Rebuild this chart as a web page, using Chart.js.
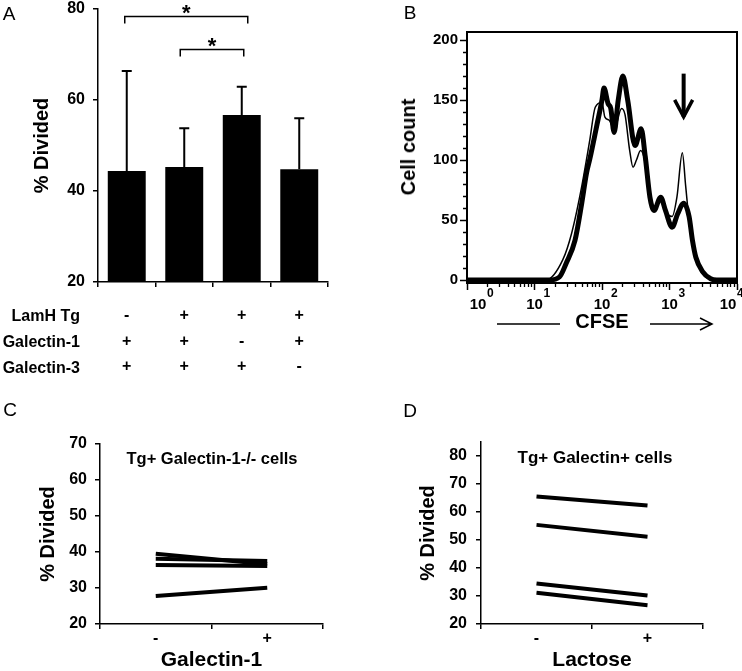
<!DOCTYPE html>
<html>
<head>
<meta charset="utf-8">
<script src="https://cdn.jsdelivr.net/npm/chart.js@4.4.0/dist/chart.umd.min.js"></script>
<style>
body { margin: 0; background: #fff; font-family: 'Liberation Sans', Arial, sans-serif; color: #000; }
#page { position: relative; width: 742px; height: 671px; overflow: hidden; background: #fff; }
canvas { position: absolute; }
.lbl { position: absolute; white-space: nowrap; line-height: 1; transform: translate(-50%, -50%); }
.panel { font-size: 19px; }
.row { font-size: 16px; font-weight: bold; transform: translate(-100%, -50%); }
.sub { font-weight: bold; }
.vert { font-size: 20px; font-weight: bold; transform: translate(-50%, -50%) rotate(-90deg); }
</style>
</head>
<body>
<div id="page">
  <canvas id="chartA" width="345" height="380" style="left:0;top:0;width:345px;height:380px"></canvas>
  <canvas id="chartB" width="371" height="340" style="left:371px;top:0;width:371px;height:340px"></canvas>
  <canvas id="chartC" width="360" height="271" style="left:0;top:400px;width:360px;height:271px"></canvas>
  <canvas id="chartD" width="371" height="271" style="left:371px;top:400px;width:371px;height:271px"></canvas>

  <div class="lbl panel" style="left:9px;top:13px">A</div>
  <div class="lbl panel" style="left:410px;top:12px">B</div>
  <div class="lbl panel" style="left:10px;top:409px">C</div>
  <div class="lbl panel" style="left:410px;top:410px">D</div>

  <div class="lbl row" style="left:80px;top:316px">LamH Tg</div>
  <div class="lbl row" style="left:80px;top:342px">Galectin-1</div>
  <div class="lbl row" style="left:80px;top:368px">Galectin-3</div>

  <div class="lbl vert" style="left:408px;top:147px">Cell count</div>

  <div class="lbl sub" style="left:212px;top:458px;font-size:16.5px">Tg+ Galectin-1-/- cells</div>
  <div class="lbl sub" style="left:595px;top:457px;font-size:17px">Tg+ Galectin+ cells</div>
</div>

<script>
// Panel A: % divided per condition, with SD
const conditionLabels = [['-', '+', '+'], ['+', '+', '+'], ['+', '-', '+'], ['+', '+', '-']];
const dividedMeans = [44.4, 45.3, 56.7, 44.8];
const dividedErrors = [22.0, 8.5, 6.2, 11.2];
const sigPairs = [[0, 2], [1, 2]];
const dividedTicks = [20, 40, 60, 80];

// Panel B: CFSE histograms (thick and thin overlays)
const cfseThickX = [1, 16.6, 23.4, 29.5, 39.8, 50.1, 58.9, 66.1, 83.2, 100, 107, 123, 135, 151, 174, 204, 240, 309, 380, 437, 513, 589, 741, 871, 1096, 1318, 1622, 1950, 2188, 2455, 3090, 4074, 5012, 10000];
const cfseThickY = [0, 0, 2.5, 14, 33, 64, 89, 101, 128, 150, 160, 147, 143, 123, 150, 170, 150, 112, 126, 103, 69, 58, 69, 58, 44, 55, 64, 53, 33, 19, 7, 1, 0, 0];
const cfseThinX = [1, 14.8, 26.3, 35.5, 50.1, 66.1, 79.4, 100, 110, 129, 151, 195, 219, 257, 288, 324, 372, 427, 490, 589, 741, 933, 1096, 1288, 1549, 1738, 1950, 2291, 2884, 3802, 5012, 10000];
const cfseThinY = [0, 0, 17, 39, 78, 117, 144, 148, 136, 133, 125, 143, 138, 108, 94, 100, 108, 100, 72, 60, 70, 55, 53, 69, 106, 78, 50, 25, 8, 1, 0, 0];
const decadeValues = [1, 10, 100, 1000, 10000];
const decadeExponents = ['0', '1', '2', '3', '4'];
const countTicks = [0, 50, 100, 150, 200];

// Panel C: Tg+ Galectin-1-/- cells, without / with galectin-1
const galectinLabels = ['-', '+'];
const galKoSeries = [[39.5, 36.6], [38.1, 37.5], [36.4, 36.1], [27.8, 30.1]];
const galKoTicks = [20, 30, 40, 50, 60, 70];

// Panel D: Tg+ Galectin+ cells, without / with lactose
const lactoseLabels = ['-', '+'];
const lactoseSeries = [[65.5, 62.3], [55.4, 51.2], [34.5, 30.2], [31.2, 26.7]];
const lactoseTicks = [20, 30, 40, 50, 60, 70, 80];

Chart.defaults.font.family = "'Liberation Sans', Arial, sans-serif";
Chart.defaults.color = '#000';

const FONT = "'Liberation Sans', Arial, sans-serif";
const bold = (size, lineHeight) => ({ size: size, weight: 'bold', lineHeight: lineHeight || 1.2 });

// keep the plot areas where the reference has them
function fixWidth(w) {
    return function(scale) { scale.width = w; scale.paddingTop = 0; scale.paddingBottom = 0; };
}
function fixHeight(h) {
    return function(scale) { scale.height = h; scale.paddingLeft = 0; scale.paddingRight = 0; };
}
function useTicks(values) {
    return function(scale) { scale.ticks = values.map(v => ({ value: v })); };
}

const axisBorder = { color: '#000', width: 1.5 };
const outerTicks = { drawOnChartArea: false, tickLength: 5, color: '#000', lineWidth: 1.5 };

// error bars (upper half only)
const errorBars = {
    id: 'errorBars',
    afterDatasetsDraw(chart) {
        const ctx = chart.ctx;
        const y = chart.scales.y;
        ctx.save();
        ctx.strokeStyle = '#000';
        ctx.lineWidth = 2;
        chart.getDatasetMeta(0).data.forEach((bar, i) => {
            const top = y.getPixelForValue(dividedMeans[i] + dividedErrors[i]);
            ctx.beginPath();
            ctx.moveTo(bar.x, bar.y);
            ctx.lineTo(bar.x, top);
            ctx.moveTo(bar.x - 5, top);
            ctx.lineTo(bar.x + 5, top);
            ctx.stroke();
        });
        ctx.restore();
    }
};

// significance brackets with stars
const sigBrackets = {
    id: 'sigBrackets',
    afterDraw(chart) {
        const ctx = chart.ctx;
        const y = chart.scales.y;
        const bars = chart.getDatasetMeta(0).data;
        const levels = [78.5, 71.2];
        const nudge = [[-2, 6], [-4, 2]];
        ctx.save();
        ctx.strokeStyle = '#000';
        ctx.fillStyle = '#000';
        ctx.lineWidth = 1.5;
        ctx.font = 'bold 22px ' + FONT;
        ctx.textAlign = 'center';
        ctx.textBaseline = 'alphabetic';
        sigPairs.forEach(([a, b], i) => {
            const x1 = bars[a].x + nudge[i][0];
            const x2 = bars[b].x + nudge[i][1];
            const yy = Math.round(y.getPixelForValue(levels[i])) + 0.5;
            ctx.beginPath();
            ctx.moveTo(x1, yy + 7);
            ctx.lineTo(x1, yy);
            ctx.lineTo(x2, yy);
            ctx.lineTo(x2, yy + 7);
            ctx.stroke();
            ctx.fillText('*', (x1 + x2) / 2, yy + 3);
        });
        ctx.restore();
    }
};

// frame, minor ticks, 10^n labels, peak arrow and CFSE arrows
const flowFrame = {
    id: 'flowFrame',
    afterDraw(chart) {
        const ctx = chart.ctx;
        const a = chart.chartArea;
        const x = chart.scales.x;
        const y = chart.scales.y;
        ctx.save();
        ctx.strokeStyle = '#000';
        ctx.fillStyle = '#000';
        ctx.lineWidth = 2;
        ctx.strokeRect(a.left, a.top, a.right - a.left, a.bottom - a.top);

        // minor ticks
        ctx.lineWidth = 1.3;
        ctx.beginPath();
        for (let d = 0; d < decadeValues.length - 1; d++) {
            for (let k = 2; k < 10; k++) {
                const px = Math.round(x.getPixelForValue(decadeValues[d] * k)) + 0.5;
                ctx.moveTo(px, a.bottom);
                ctx.lineTo(px, a.bottom + 4);
            }
        }
        for (let v = 10; v < 200; v += 10) {
            if (v % 50 === 0) continue;
            const py = Math.round(y.getPixelForValue(v)) + 0.5;
            ctx.moveTo(a.left, py);
            ctx.lineTo(a.left - 4, py);
        }
        ctx.stroke();

        // 10^n labels
        ctx.textBaseline = 'middle';
        decadeValues.forEach((v, i) => {
            const px = x.getPixelForValue(v);
            const cx = Math.min(Math.max(px, a.left + 11), a.right - 9);
            ctx.font = 'bold 15px ' + FONT;
            ctx.textAlign = 'center';
            ctx.fillText('10', cx, a.bottom + 22);
            ctx.font = 'bold 12px ' + FONT;
            ctx.textAlign = 'left';
            ctx.fillText(decadeExponents[i], cx + 9, a.bottom + 11);
        });

        // arrow pointing at the undivided peak
        const px = x.getPixelForValue(1620);
        const y1 = y.getPixelForValue(172);
        const y2 = y.getPixelForValue(136);
        ctx.lineWidth = 4;
        ctx.beginPath();
        ctx.moveTo(px, y1);
        ctx.lineTo(px, y2);
        ctx.stroke();
        ctx.lineWidth = 3.5;
        ctx.beginPath();
        ctx.moveTo(px - 9, y2 - 17);
        ctx.lineTo(px, y2);
        ctx.lineTo(px + 9, y2 - 17);
        ctx.stroke();

        // ---- CFSE ---->
        const cx = (a.left + a.right) / 2;
        const ty = x.bottom - 16;
        ctx.lineWidth = 1.5;
        ctx.beginPath();
        ctx.moveTo(cx - 105, ty);
        ctx.lineTo(cx - 42, ty);
        ctx.moveTo(cx + 48, ty);
        ctx.lineTo(cx + 110, ty);
        ctx.moveTo(cx + 98, ty - 6);
        ctx.lineTo(cx + 110, ty);
        ctx.lineTo(cx + 98, ty + 6);
        ctx.stroke();
        ctx.restore();
    }
};

// Panel A
new Chart(document.getElementById('chartA'), {
    type: 'bar',
    data: {
        labels: conditionLabels,
        datasets: [{
            data: dividedMeans,
            backgroundColor: '#000',
            barPercentage: 0.66,
            categoryPercentage: 1
        }]
    },
    options: {
        responsive: false,
        animation: false,
        layout: { padding: { left: 0, top: 9, right: 17, bottom: 0 } },
        plugins: { legend: { display: false }, tooltip: { enabled: false } },
        scales: {
            x: {
                offset: true,
                grid: Object.assign({ offset: true }, outerTicks),
                border: axisBorder,
                ticks: { font: bold(16, 1.6), padding: 16, maxRotation: 0, autoSkip: false },
                afterFit: fixHeight(98)
            },
            y: {
                min: 20,
                max: 80,
                afterBuildTicks: useTicks(dividedTicks),
                ticks: { font: bold(16), padding: 8, autoSkip: false },
                grid: outerTicks,
                border: axisBorder,
                title: { display: true, text: '% Divided', font: bold(20), padding: { top: 30, bottom: 0 } },
                afterFit: fixWidth(98)
            }
        }
    },
    plugins: [errorBars, sigBrackets]
});

// Panel B
new Chart(document.getElementById('chartB'), {
    type: 'line',
    data: {
        datasets: [{
            data: cfseThickX.map((v, i) => ({ x: v, y: cfseThickY[i] })),
            borderColor: '#000',
            borderWidth: 5,
            pointRadius: 0,
            cubicInterpolationMode: 'monotone'
        }, {
            data: cfseThinX.map((v, i) => ({ x: v, y: cfseThinY[i] })),
            borderColor: '#000',
            borderWidth: 1.5,
            pointRadius: 0,
            cubicInterpolationMode: 'monotone'
        }]
    },
    options: {
        responsive: false,
        animation: false,
        layout: { padding: { left: 0, top: 32, right: 5, bottom: 0 } },
        plugins: { legend: { display: false }, tooltip: { enabled: false } },
        scales: {
            x: {
                type: 'logarithmic',
                min: 1,
                max: 10000,
                afterBuildTicks: useTicks(decadeValues),
                grid: { drawOnChartArea: false, tickLength: 7, color: '#000', tickWidth: 1.5 },
                border: { color: '#000', width: 2 },
                ticks: { display: false },
                title: { display: true, text: 'CFSE', font: bold(20, 1), padding: { top: 0, bottom: 8 } },
                afterFit: fixHeight(57)
            },
            y: {
                min: -2.5,
                max: 206.7,
                afterBuildTicks: useTicks(countTicks),
                ticks: { font: bold(15), padding: 2, autoSkip: false },
                grid: { drawOnChartArea: false, tickLength: 7, color: '#000', tickWidth: 1.5 },
                border: { color: '#000', width: 2 },
                afterFit: fixWidth(96)
            }
        }
    },
    plugins: [flowFrame]
});

// Panels C and D share the same look
function pairedChart(id, labels, series, yMax, yTicks, yTitleGap, xTitle, yWidth, padTop, padRight) {
    new Chart(document.getElementById(id), {
        type: 'line',
        data: {
            labels: labels,
            datasets: series.map(s => ({
                data: s,
                borderColor: '#000',
                borderWidth: 4,
                pointRadius: 0
            }))
        },
        options: {
            responsive: false,
            animation: false,
            layout: { padding: { left: 0, top: padTop, right: padRight, bottom: 0 } },
            plugins: { legend: { display: false }, tooltip: { enabled: false } },
            scales: {
                x: {
                    offset: true,
                    grid: Object.assign({ offset: true }, outerTicks),
                    border: axisBorder,
                    ticks: { font: bold(16), padding: 0, maxRotation: 0 },
                    title: { display: true, text: xTitle, font: bold(21, 1), padding: { top: 0, bottom: 0 } },
                    afterFit: fixHeight(47)
                },
                y: {
                    min: 20,
                    max: yMax,
                    afterBuildTicks: useTicks(yTicks),
                    ticks: { font: bold(16), padding: yWidth === 100 ? 8 : 9, autoSkip: false },
                    grid: outerTicks,
                    border: axisBorder,
                    title: { display: true, text: '% Divided', font: bold(20), padding: { top: yTitleGap, bottom: 0 } },
                    afterFit: fixWidth(yWidth)
                }
            }
        }
    });
}

pairedChart('chartC', galectinLabels, galKoSeries, 70, galKoTicks, 36, 'Galectin-1', 100, 44, 37);
pairedChart('chartD', lactoseLabels, lactoseSeries, 85, lactoseTicks, 45, 'Lactose', 110, 42, 39);
</script>
</body>
</html>
